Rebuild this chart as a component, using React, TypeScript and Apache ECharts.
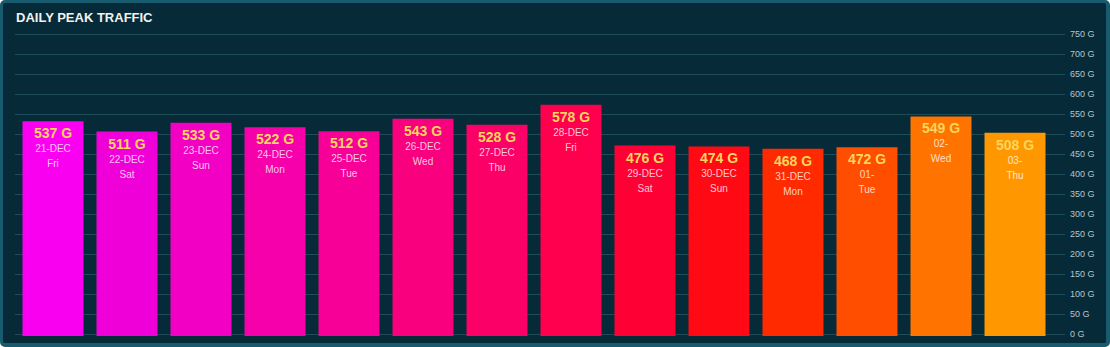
import React, { useEffect, useRef } from "react";
import * as echarts from "echarts";

const dates = ["21-DEC", "22-DEC", "23-DEC", "24-DEC", "25-DEC", "26-DEC", "27-DEC", "28-DEC", "29-DEC", "30-DEC", "31-DEC", "01-", "02-", "03-"];
const days = ["Fri", "Sat", "Sun", "Mon", "Tue", "Wed", "Thu", "Fri", "Sat", "Sun", "Mon", "Tue", "Wed", "Thu"];
const peakValues = [537, 511, 533, 522, 512, 543, 528, 578, 476, 474, 468, 472, 549, 508];
const barColors = ["#fa00f0", "#f000d8", "#f200c4", "#f500aa", "#f70098", "#f9007e", "#fb0066", "#ff004e", "#ff0034", "#ff0a14", "#ff2a00", "#ff4e00", "#ff7400", "#ff9800"];
const yMax = 750;
const yStep = 50;

export default function App() {
  const ref = useRef<HTMLDivElement>(null);
  useEffect(() => {
    if (!ref.current) return;
    const chart = echarts.init(ref.current, null, { renderer: "svg" });
    const cats = dates.map((d, i) => d + "|" + days[i]);
    chart.setOption({
      animation: false,
      backgroundColor: "transparent",
      title: {
        text: "DAILY PEAK TRAFFIC",
        left: 11,
        top: 6,
        textStyle: { color: "#f2f2f2", fontSize: 13, fontWeight: "bold", fontFamily: "Liberation Sans, Arial, sans-serif" },
      },
      grid: [
        { left: 16, right: 58, top: 36, bottom: 11 },
        { left: 15, right: 45, top: 34, bottom: 13 },
      ],
      xAxis: [
        { type: "category", data: cats, gridIndex: 0, show: false },
        { type: "category", data: cats, gridIndex: 1, show: false },
      ],
      yAxis: [
        { type: "value", gridIndex: 0, min: 0, max: yMax, interval: yStep, show: false },
        {
          type: "value",
          gridIndex: 1,
          min: 0,
          max: yMax,
          interval: yStep,
          position: "right",
          axisLine: { show: false },
          axisTick: { show: false },
          splitLine: { lineStyle: { color: "#1e4c58", width: 1 } },
          axisLabel: {
            margin: 5,
            color: "#b8c4c8",
            fontSize: 9,
            fontFamily: "Liberation Sans, Arial, sans-serif",
            formatter: (v: number) => v + " G",
          },
        },
      ],
      series: [
        {
          type: "bar",
          xAxisIndex: 0,
          yAxisIndex: 0,
          barCategoryGap: "17.6%",
          data: peakValues.map((v, i) => ({ value: v, itemStyle: { color: barColors[i] } })),
          label: {
            show: true,
            position: "insideTop",
            distance: 4,
            fontFamily: "Liberation Sans, Arial, sans-serif",
            formatter: (p: any) => `{v|${p.value} G}\n{d|${dates[p.dataIndex]}}\n{d|${days[p.dataIndex]}}`,
            rich: {
              v: { color: "#fbd55c", fontSize: 14, fontWeight: "bold", lineHeight: 16, fontFamily: "Liberation Sans, Arial, sans-serif" },
              d: { color: "rgba(255,255,255,0.78)", fontSize: 10, lineHeight: 15, fontFamily: "Liberation Sans, Arial, sans-serif" },
            },
          },
        },
      ],
    });
    return () => chart.dispose();
  }, []);
  return (
    <div
      style={{
        position: "fixed",
        left: 0,
        top: 0,
        width: 1110,
        height: 347,
        boxSizing: "border-box",
        background: "#072a38",
        borderStyle: "solid",
        borderColor: "#185a6e",
        borderWidth: "3px 4px 4px 3px",
        borderRadius: 5,
      }}
    >
      <div ref={ref} style={{ position: "absolute", left: -3, top: -3, width: 1110, height: 347 }} />
    </div>
  );
}
